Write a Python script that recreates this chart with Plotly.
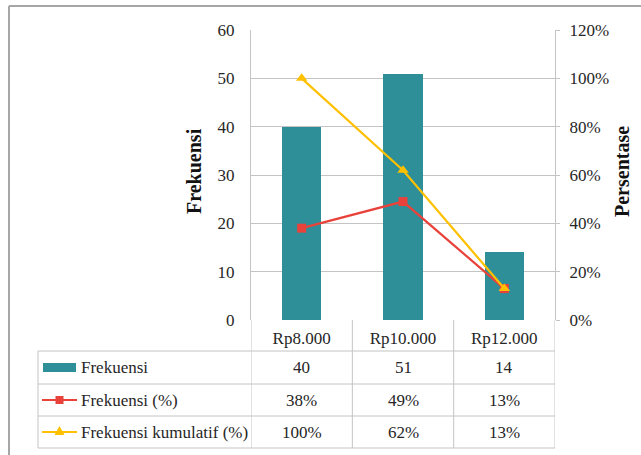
import plotly.graph_objects as go

# Data
categories = ["Rp8.000", "Rp10.000", "Rp12.000"]
frekuensi = [40, 51, 14]
frekuensi_pct = [0.38, 0.49, 0.13]
kumulatif_pct = [1.00, 0.62, 0.13]
row_labels = ["Frekuensi", "Frekuensi (%)", "Frekuensi kumulatif (%)"]

W, H = 641, 455
TEAL = "#2E8F98"
RED = "#E8423A"
YELLOW = "#FFC000"
GRID = "#C4C4C4"
FONT = "Liberation Serif"
TEXT = "#262626"


def px(x):
    return x / W


def py(y):
    return 1 - y / H


fig = go.Figure()

fig.add_trace(go.Bar(x=categories, y=frekuensi, width=0.39, marker_color=TEAL,
                     marker_line_width=0, name=row_labels[0], yaxis="y"))
fig.add_trace(go.Scatter(x=categories, y=frekuensi_pct, mode="lines+markers",
                         line=dict(color=RED, width=2.2),
                         marker=dict(symbol="square", size=9, color=RED),
                         name=row_labels[1], yaxis="y2"))
fig.add_trace(go.Scatter(x=categories, y=kumulatif_pct, mode="lines+markers",
                         line=dict(color=YELLOW, width=2.2),
                         marker=dict(symbol="triangle-up", size=10, color=YELLOW),
                         name=row_labels[2], yaxis="y2"))

# plot area in pixels
X0, X1, Y0, Y1 = 251, 555, 30, 320

shapes = []
line_style = dict(color=GRID, width=1)

# outer frame (top and left edges)
shapes.append(dict(type="line", xref="paper", yref="paper", x0=px(9), x1=1.0,
                   y0=py(6), y1=py(6), line=dict(color="#A6A6A6", width=2)))
shapes.append(dict(type="line", xref="paper", yref="paper", x0=px(9), x1=px(9),
                   y0=py(6), y1=0, line=dict(color="#A6A6A6", width=2)))

# data table grid
row_y = [351, 384, 416, 448]
for yy in row_y:
    shapes.append(dict(type="line", xref="paper", yref="paper", x0=px(38), x1=px(X1),
                       y0=py(yy), y1=py(yy), line=line_style))
shapes.append(dict(type="line", xref="paper", yref="paper", x0=px(38), x1=px(38),
                   y0=py(351), y1=py(448), line=line_style))
for xb in [-0.5, 0.5, 1.5, 2.5]:
    shapes.append(dict(type="line", xref="x", yref="paper", x0=xb, x1=xb,
                       y0=py(Y1), y1=py(448), line=line_style))

# legend keys inside the table
shapes.append(dict(type="rect", xref="paper", yref="paper", x0=px(43), x1=px(76),
                   y0=py(372), y1=py(363), fillcolor=TEAL, line=dict(width=0)))
shapes.append(dict(type="line", xref="paper", yref="paper", x0=px(42), x1=px(77),
                   y0=py(400), y1=py(400), line=dict(color=RED, width=2.2)))
shapes.append(dict(type="rect", xref="paper", yref="paper", x0=px(55.5), x1=px(63.5),
                   y0=py(404), y1=py(396), fillcolor=RED, line=dict(width=0)))
shapes.append(dict(type="line", xref="paper", yref="paper", x0=px(42), x1=px(77),
                   y0=py(432), y1=py(432), line=dict(color=YELLOW, width=2.2)))
tx, ty = 59.5, 431
shapes.append(dict(type="path", xref="paper", yref="paper",
                   path=f"M {px(tx-5)} {py(ty+4)} L {px(tx+5)} {py(ty+4)} L {px(tx)} {py(ty-5)} Z",
                   fillcolor=YELLOW, line=dict(width=0)))

annotations = []
row_centers = [367.5, 400, 432]
series_text = [
    [str(v) for v in frekuensi],
    [f"{round(v * 100)}%" for v in frekuensi_pct],
    [f"{round(v * 100)}%" for v in kumulatif_pct],
]
for label, yc, texts in zip(row_labels, row_centers, series_text):
    annotations.append(dict(text=label, xref="paper", yref="paper", x=px(79), y=py(yc),
                            xanchor="left", yanchor="middle", showarrow=False,
                            font=dict(family=FONT, size=17, color=TEXT)))
    for cat, t in zip(categories, texts):
        annotations.append(dict(text=t, xref="x", yref="paper", x=cat, y=py(yc),
                                xanchor="center", yanchor="middle", showarrow=False,
                                font=dict(family=FONT, size=17, color=TEXT)))

# axis titles
annotations.append(dict(text="<b>Frekuensi</b>", xref="paper", yref="paper", x=px(194), y=py(171),
                        textangle=-90, showarrow=False, xanchor="center", yanchor="middle",
                        font=dict(family=FONT, size=20, color="#111")))
annotations.append(dict(text="<b>Persentase</b>", xref="paper", yref="paper", x=px(622), y=py(172),
                        textangle=-90, showarrow=False, xanchor="center", yanchor="middle",
                        font=dict(family=FONT, size=20, color="#111")))

tickfont = dict(family=FONT, size=17, color=TEXT)
fig.update_layout(
    template="none",
    width=W, height=H,
    margin=dict(l=0, r=0, t=0, b=0, pad=0),
    paper_bgcolor="white", plot_bgcolor="white",
    showlegend=False,
    xaxis=dict(domain=[px(X0), px(X1)], type="category", range=[-0.5, 2.5],
               automargin=False,
               showgrid=False, showline=False, zeroline=False,
               ticks="", ticklabelstandoff=6, tickfont=tickfont),
    yaxis=dict(domain=[py(Y1), py(Y0)], range=[0, 60], dtick=10,
               automargin=False,
               showgrid=True, gridcolor=GRID, gridwidth=1,
               showline=True, linecolor=GRID, zeroline=False,
               ticks="", ticklabelstandoff=12, tickfont=tickfont),
    yaxis2=dict(overlaying="y", side="right", range=[0, 1.2], dtick=0.2, tickformat=".0%",
                automargin=False,
                showgrid=False, showline=True, linecolor=GRID, zeroline=False,
                ticks="outside", ticklen=4, tickcolor=GRID,
                ticklabelstandoff=6, tickfont=tickfont),
    shapes=shapes,
    annotations=annotations,
    bargap=0,
)

fig.write_html("out.html")
